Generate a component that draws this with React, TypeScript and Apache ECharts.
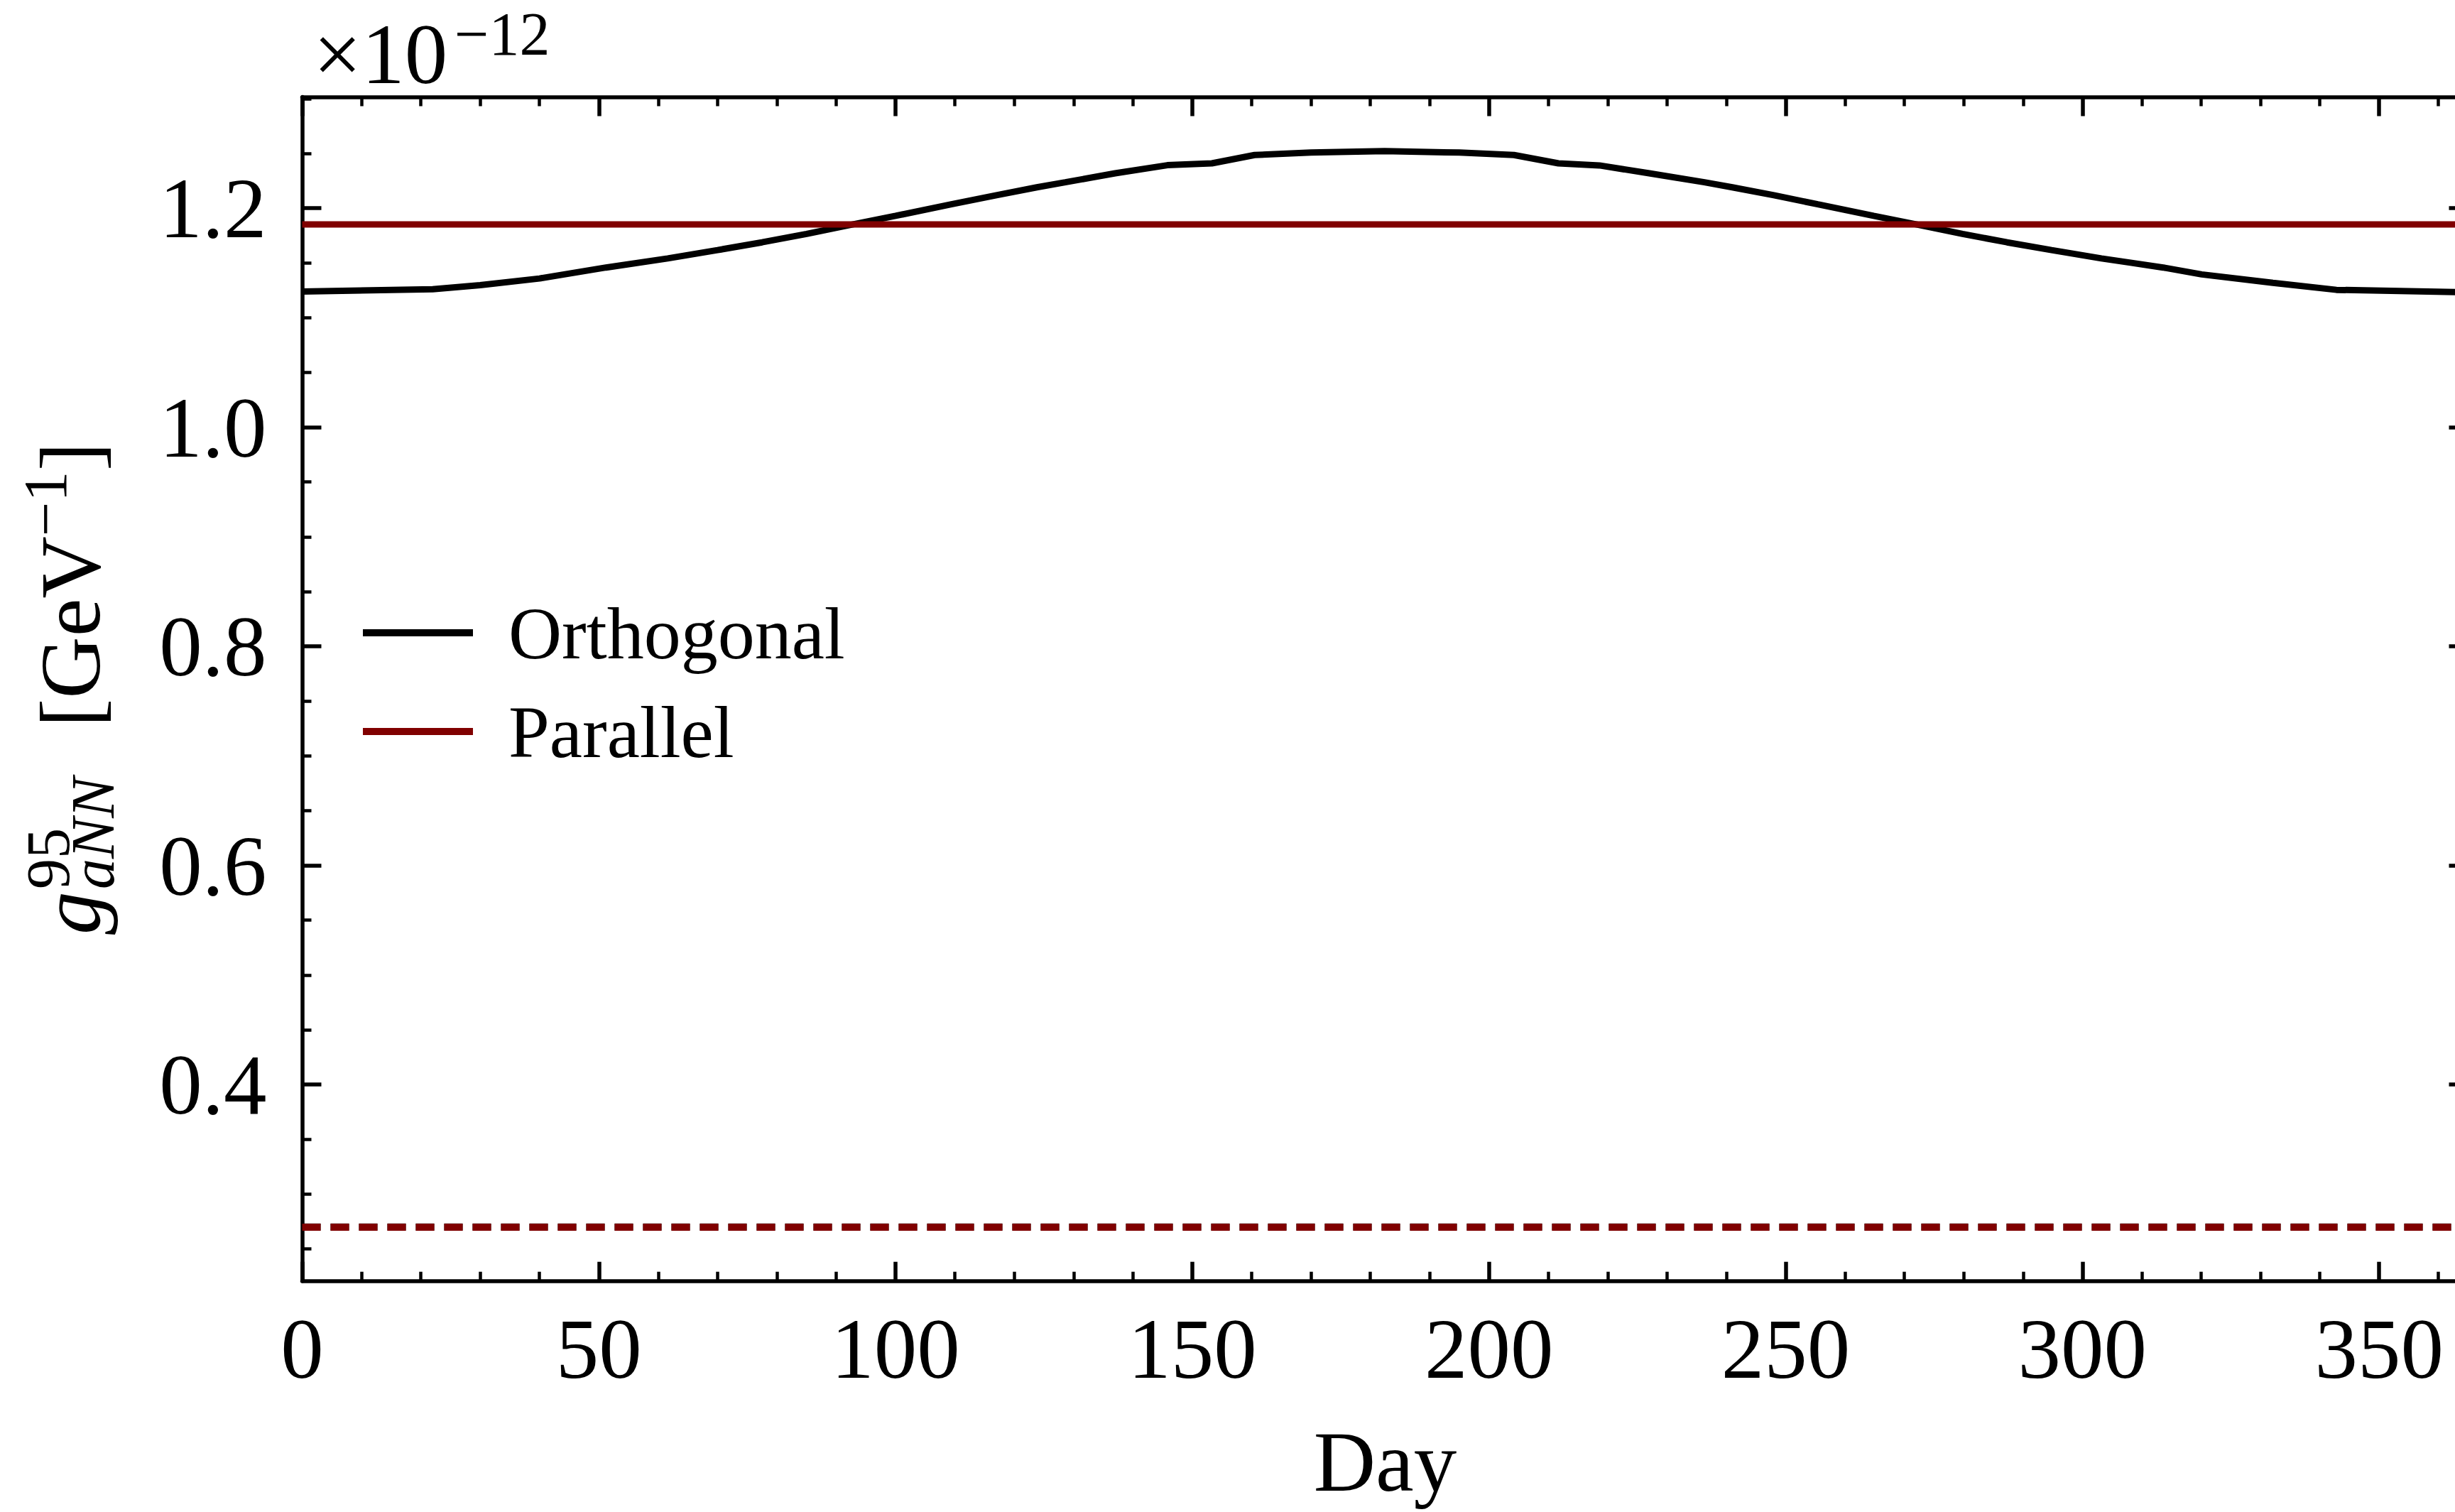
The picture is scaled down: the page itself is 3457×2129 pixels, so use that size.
import React, { useEffect, useRef } from "react";
import * as echarts from "echarts";

const FONT = "'Liberation Serif', 'Times New Roman', serif";

// ---- data (values in units of 1e-12 GeV^-1) ----
const orthoDays = [
  0, 22, 30, 40, 51.2, 61.6, 70, 77.5, 85, 92.7, 100, 109.4, 117, 123.8, 128.6,
  137, 145.8, 153.3, 160.5, 170, 182.4, 195, 204.2, 211.7, 218.6, 227, 236.3,
  241, 248, 255.4, 264.8, 272.1, 279.8, 287.3, 294.8, 303.2, 308.1, 313.6,
  320.1, 332.1, 342.8, 365,
];
const orthoValues = [
  1.1238, 1.126, 1.1297, 1.1358, 1.1458, 1.1541, 1.1617, 1.1688, 1.1765,
  1.185, 1.193, 1.2035, 1.2118, 1.219, 1.2236, 1.2318, 1.2392, 1.2409, 1.2485,
  1.2507, 1.2521, 1.2507, 1.2485, 1.2409, 1.239, 1.2318, 1.2236, 1.219, 1.2118,
  1.2035, 1.193, 1.185, 1.1765, 1.1688, 1.1617, 1.1541, 1.1502, 1.1458, 1.1395,
  1.1318, 1.1254, 1.1232,
];
const parallelDays = [0, 91, 182, 274, 365];
const parallelValues = [1.1852, 1.1852, 1.1852, 1.1852, 1.1852];
const boundDays = [0, 365];
const orthoBoundValues = [0.27, 0.27];
const parallelBoundValues = [0.2698, 0.2698];

const xMajorTicks = [0, 50, 100, 150, 200, 250, 300, 350];
const xMinorTicks = [
  10, 20, 30, 40, 60, 70, 80, 90, 110, 120, 130, 140, 160, 170, 180, 190, 210,
  220, 230, 240, 260, 270, 280, 290, 310, 320, 330, 340, 360,
];
const yMajorTicks = [0.4, 0.6, 0.8, 1.0, 1.2];
const yMinorTicks = [
  0.25, 0.3, 0.35, 0.45, 0.5, 0.55, 0.65, 0.7, 0.75, 0.85, 0.9, 0.95, 1.05,
  1.1, 1.15, 1.25, 1.3,
];
const xRange = [0, 365];
const yRange = [0.2207, 1.3015];

const seriesNames = ["Orthogonal", "Parallel"];

const BLACK = "#000000";
const RED = "#800000";

const zip = (xs: number[], ys: number[]) => xs.map((x, i) => [x, ys[i]]);

function buildOption() {
  const gridRect = { left: 425.5, top: 136.5, width: 3050, height: 1667.2 };
  const spine = { show: true, onZero: false, lineStyle: { color: BLACK, width: 5.5 } };
  const noSpine = { show: false, onZero: false };
  const majorTick = (vals: number[]) => ({
    show: true,
    inside: true,
    length: 27,
    customValues: vals,
    lineStyle: { color: BLACK, width: 5.5 },
  });
  const minorTick = (vals: number[]) => ({
    show: true,
    inside: true,
    length: 13,
    customValues: vals,
    lineStyle: { color: BLACK, width: 4.5 },
  });
  const baseX = {
    type: "value",
    min: xRange[0],
    max: xRange[1],
    splitLine: { show: false },
    axisPointer: { show: false },
  };
  const baseY = {
    type: "value",
    min: yRange[0],
    max: yRange[1],
    splitLine: { show: false },
    axisPointer: { show: false },
  };

  const lbl = (
    text: string,
    x: number,
    base: number,
    fs: number,
    italic = false
  ) => ({
    type: "text",
    x,
    y: base - 0.3375 * fs,
    style: {
      text,
      fontSize: fs,
      lineHeight: Math.round(fs * 0.8),
      fontFamily: FONT,
      fontStyle: italic ? "italic" : "normal",
      fill: BLACK,
      textAlign: "left",
      textVerticalAlign: "middle",
    },
  });

  return {
    animation: false,
    backgroundColor: "#ffffff",
    grid: [
      { ...gridRect, outerBoundsMode: "none", containLabel: false },
      { ...gridRect, outerBoundsMode: "none", containLabel: false },
    ],
    xAxis: [
      {
        ...baseX,
        gridIndex: 0,
        position: "bottom",
        axisLine: spine,
        axisTick: majorTick(xMajorTicks),
        axisLabel: {
          show: true,
          customValues: xMajorTicks,
          margin: 35,
          fontSize: 121,
          fontFamily: FONT,
          color: BLACK,
          formatter: (v: number) => String(v),
        },
        name: "Day",
        nameLocation: "middle",
        nameGap: 209,
        nameTextStyle: {
          fontSize: 121,
          lineHeight: 90,
          fontFamily: FONT,
          color: BLACK,
        },
      },
      {
        ...baseX,
        gridIndex: 0,
        position: "top",
        axisLine: spine,
        axisTick: majorTick(xMajorTicks),
        axisLabel: { show: false },
      },
      {
        ...baseX,
        gridIndex: 1,
        position: "bottom",
        axisLine: noSpine,
        axisTick: minorTick(xMinorTicks),
        axisLabel: { show: false },
      },
      {
        ...baseX,
        gridIndex: 1,
        position: "top",
        axisLine: noSpine,
        axisTick: minorTick(xMinorTicks),
        axisLabel: { show: false },
      },
    ],
    yAxis: [
      {
        ...baseY,
        gridIndex: 0,
        position: "left",
        axisLine: spine,
        axisTick: majorTick(yMajorTicks),
        axisLabel: {
          show: true,
          customValues: yMajorTicks,
          margin: 50,
          fontSize: 121,
          fontFamily: FONT,
          color: BLACK,
          formatter: (v: number) => v.toFixed(1),
        },
      },
      {
        ...baseY,
        gridIndex: 0,
        position: "right",
        axisLine: spine,
        axisTick: majorTick(yMajorTicks),
        axisLabel: { show: false },
      },
      {
        ...baseY,
        gridIndex: 1,
        position: "left",
        axisLine: noSpine,
        axisTick: minorTick(yMinorTicks),
        axisLabel: { show: false },
      },
      {
        ...baseY,
        gridIndex: 1,
        position: "right",
        axisLine: noSpine,
        axisTick: minorTick(yMinorTicks),
        axisLabel: { show: false },
      },
    ],
    legend: {
      data: seriesNames,
      orient: "vertical",
      left: 511,
      top: 839,
      padding: 0,
      icon: "rect",
      itemWidth: 155,
      itemHeight: 10,
      itemGap: 35,
      selectedMode: false,
      textStyle: {
        fontSize: 104,
        lineHeight: 104,
        fontFamily: FONT,
        color: BLACK,
        padding: [0, 0, 0, 45],
      },
    },
    series: [
      {
        name: seriesNames[0],
        type: "line",
        xAxisIndex: 0,
        yAxisIndex: 0,
        data: zip(orthoDays, orthoValues),
        symbol: "none",
        showSymbol: false,
        color: BLACK,
        itemStyle: { color: BLACK },
        lineStyle: { color: BLACK, width: 9 },
        z: 2,
      },
      {
        name: seriesNames[1],
        type: "line",
        xAxisIndex: 0,
        yAxisIndex: 0,
        data: zip(parallelDays, parallelValues),
        symbol: "none",
        showSymbol: false,
        color: RED,
        itemStyle: { color: RED },
        lineStyle: { color: RED, width: 9 },
        z: 3,
      },
      {
        name: "Orthogonal bound",
        type: "line",
        xAxisIndex: 0,
        yAxisIndex: 0,
        data: zip(boundDays, orthoBoundValues),
        symbol: "none",
        showSymbol: false,
        color: BLACK,
        lineStyle: { color: BLACK, width: 10, type: [26, 14] },
        z: 4,
      },
      {
        name: "Parallel bound",
        type: "line",
        xAxisIndex: 0,
        yAxisIndex: 0,
        data: zip(boundDays, parallelBoundValues),
        symbol: "none",
        showSymbol: false,
        color: RED,
        lineStyle: { color: RED, width: 10, type: [26, 14] },
        z: 5,
      },
    ],
    graphic: {
      elements: [
        lbl("×10", 441, 117, 121),
        lbl("−12", 640, 77, 86),
        {
          type: "group",
          x: 140,
          y: 1316,
          rotation: Math.PI / 2,
          children: [
            lbl("g", 0, 0, 121, true),
            lbl("95", 64, -43, 86),
            lbl("aNN", 64, 20, 86, true),
            lbl("[GeV", 292, 0, 121),
            lbl("−1", 561, -47, 86),
            lbl("]", 653, 0, 121),
          ],
        },
      ],
    },
  };
}

export default function App() {
  const ref = useRef<HTMLDivElement>(null);
  useEffect(() => {
    if (!ref.current) return;
    const chart = echarts.init(ref.current, undefined, { renderer: "svg" });
    chart.setOption(buildOption() as any);
    return () => chart.dispose();
  }, []);
  return (
    <div
      ref={ref}
      style={{
        position: "fixed",
        left: 0,
        top: 0,
        width: 3457,
        height: 2129,
        background: "#fff",
      }}
    />
  );
}
